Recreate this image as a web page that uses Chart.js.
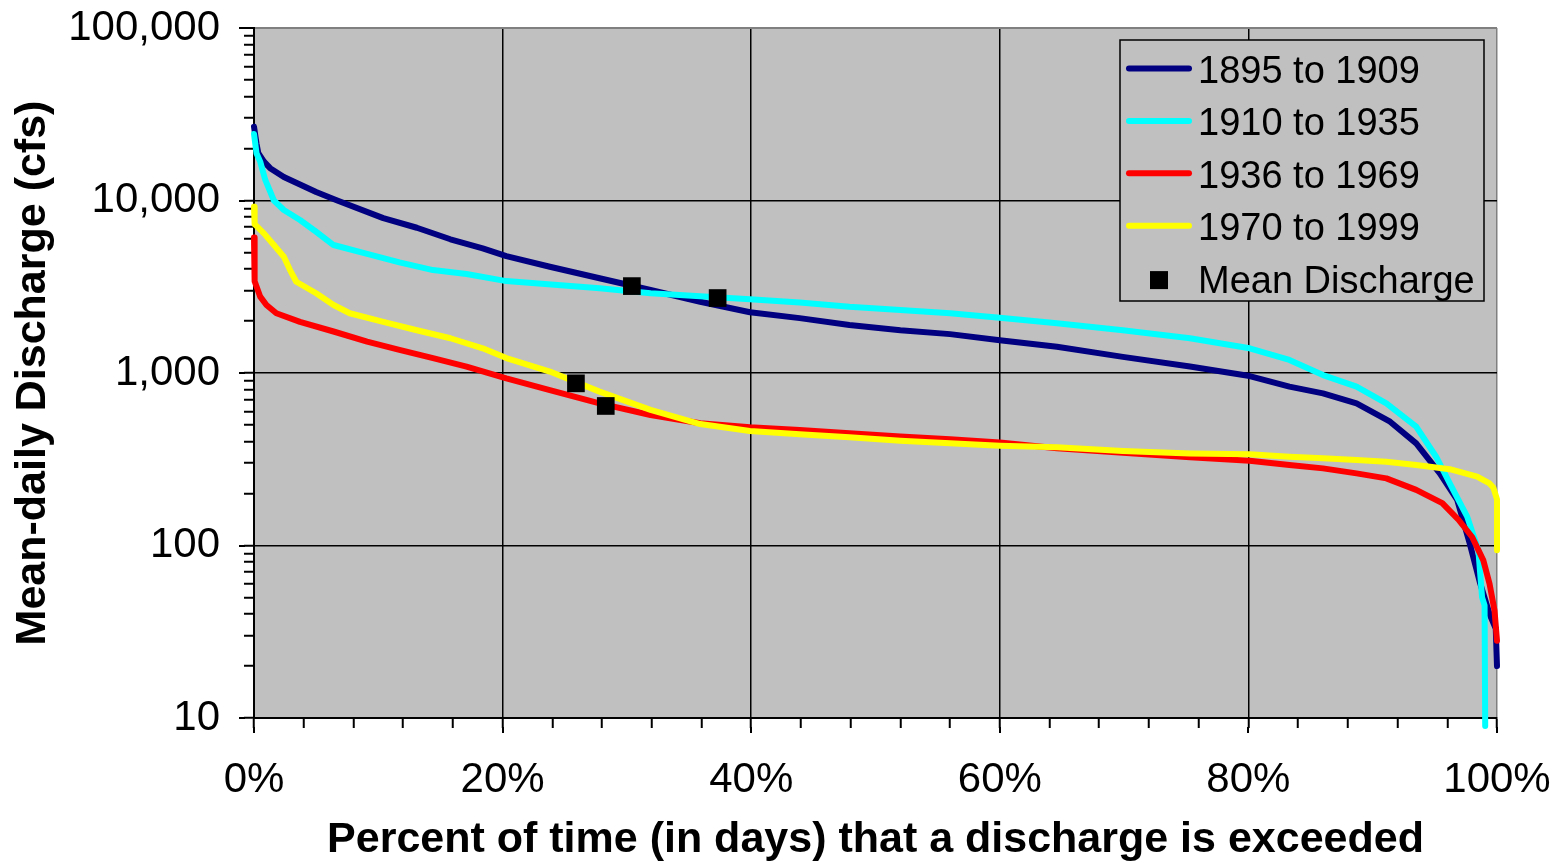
<!DOCTYPE html>
<html>
<head>
<meta charset="utf-8">
<script src="https://cdn.jsdelivr.net/npm/chart.js@4.4.1/dist/chart.umd.min.js"></script>
<style>
  html, body { margin: 0; padding: 0; background: #ffffff; }
  #wrap { width: 1558px; height: 866px; position: relative; }
  canvas { display: block; }
</style>
</head>
<body>
<div id="wrap"><canvas id="c" width="1558" height="866"></canvas></div>
<script>
// ---------------- DATA ----------------
const seriesLabels = ['1895 to 1909', '1910 to 1935', '1936 to 1969', '1970 to 1999'];
const meanLabel = 'Mean Discharge';

const pct1895 = [0, 0.2, 0.35, 0.8, 1.3, 2.4, 5, 6.7, 10.4, 13.1, 15.8, 18.4, 20.3, 23.8, 27.8, 31.9, 35.9, 39.9, 43.9, 47.9, 52, 56, 60, 64.6, 69.9, 75.3, 80.1, 83.3, 86, 88.7, 91.4, 93.5, 95.4, 96.8, 97.8, 98.6, 99.4, 99.9, 100];
const cfs1895 = [26800, 21400, 18800, 16800, 15400, 13700, 11200, 10000, 7900, 6950, 5960, 5280, 4760, 4130, 3540, 3030, 2590, 2250, 2080, 1900, 1770, 1680, 1550, 1420, 1240, 1090, 960, 834, 762, 667, 522, 391, 262, 184, 103, 62, 40, 33, 20];

const pct1910 = [0, 0.2, 0.5, 0.9, 1.6, 2.4, 3.7, 5, 6.4, 9.1, 11.7, 14.4, 17.1, 20.3, 27.8, 31.9, 35.9, 39.9, 43.9, 47.9, 52, 56, 60, 64.6, 69.9, 75.3, 80.1, 83.3, 86, 88.7, 91.1, 93.5, 95.1, 96.2, 97.6, 98.5, 98.8, 99.0, 99.05];
const cfs1910 = [24300, 18800, 16800, 13200, 10000, 8810, 7710, 6590, 5520, 4900, 4380, 3950, 3750, 3410, 3100, 2900, 2790, 2680, 2560, 2420, 2320, 2220, 2090, 1940, 1770, 1590, 1390, 1190, 973, 834, 667, 489, 327, 229, 147, 94, 50, 45, 9];

const pct1936 = [0, 0.05, 0.5, 1, 1.8, 3.7, 6.4, 9.1, 11.7, 14.4, 17.1, 20.3, 23.8, 27.8, 31.9, 35.9, 39.9, 43.9, 47.9, 52, 56, 60, 64.6, 69.9, 75.3, 80.1, 83.3, 86, 88.7, 91.1, 93.5, 95.6, 96.9, 98, 98.9, 99.4, 99.8, 100];
const cfs1936 = [6100, 3400, 2770, 2480, 2220, 1980, 1740, 1520, 1360, 1220, 1090, 930, 796, 667, 571, 511, 484, 468, 447, 428, 413, 395, 366, 345, 325, 310, 293, 280, 262, 245, 210, 176, 141, 112, 82, 60, 42, 28];

const pct1970 = [0, 0.05, 0.8, 1.6, 2.4, 2.9, 3.4, 5, 6.4, 7.7, 10.4, 13.1, 15.8, 18.4, 20.3, 23.8, 27.8, 31.9, 35.9, 39.9, 43.9, 47.9, 52, 56, 60, 64.6, 69.9, 75.3, 80.1, 83.3, 86, 88.7, 91.1, 93.5, 96.2, 98.4, 99.4, 99.7, 100, 100];
const cfs1970 = [9200, 7300, 6450, 5520, 4720, 3950, 3380, 2900, 2480, 2220, 1980, 1770, 1590, 1390, 1220, 1020, 780, 611, 506, 461, 441, 424, 405, 391, 379, 371, 353, 342, 338, 327, 320, 313, 306, 293, 277, 251, 229, 217, 185, 94];

const meanPct = [30.4, 37.3, 25.9, 28.3];
const meanCfs = [3190, 2720, 871, 644];

const xMajorTicks = [0, 20, 40, 60, 80, 100];
const xMinorStep = 4;
const yMajorTicks = [10, 100, 1000, 10000, 100000];

const xTitle = 'Percent of time (in days) that a discharge is exceeded';
const yTitle = 'Mean-daily Discharge (cfs)';

// ---------------- STYLE ----------------
const seriesColors = ['#000080', '#00FFFF', '#FF0000', '#FFFF00'];
const FONT = '"Liberation Sans", Arial, Helvetica, sans-serif';

const toPts = (xs, ys) => xs.map((x, i) => ({ x: x, y: ys[i] }));
const seriesPct = [pct1895, pct1910, pct1936, pct1970];
const seriesCfs = [cfs1895, cfs1910, cfs1936, cfs1970];
const drawOrder = [4, 3, 2, 1];

const datasets = seriesLabels.map((lab, i) => ({
  label: lab,
  data: toPts(seriesPct[i], seriesCfs[i]),
  borderColor: seriesColors[i],
  backgroundColor: seriesColors[i],
  borderWidth: 6,
  pointRadius: 0,
  tension: 0,
  fill: false,
  borderJoinStyle: 'round',
  borderCapStyle: 'round',
  order: drawOrder[i],
  clip: i === 1 ? { left: 4, right: 4, top: 4, bottom: 12 } : 4
}));
datasets.push({
  label: meanLabel,
  data: toPts(meanPct, meanCfs),
  showLine: false,
  pointStyle: 'rect',
  pointRadius: 12.5,
  pointBackgroundColor: '#000000',
  pointBorderWidth: 0,
  backgroundColor: '#000000',
  borderColor: '#000000',
  order: 0
});

// ---------------- PLUGINS ----------------
const plotBg = {
  id: 'plotBg',
  beforeDraw(chart) {
    const { ctx, chartArea: a } = chart;
    ctx.save();
    ctx.fillStyle = '#C0C0C0';
    ctx.fillRect(a.left, a.top, a.right - a.left, a.bottom - a.top);
    ctx.restore();
  }
};

const majorTickExt = {
  id: 'majorTickExt',
  afterDraw(chart) {
    const { ctx, chartArea: a } = chart;
    const xs = chart.scales.x, ys = chart.scales.y;
    ctx.save();
    ctx.strokeStyle = '#000';
    ctx.lineWidth = 2;
    xMajorTicks.forEach(v => {
      const px = Math.round(xs.getPixelForValue(v));
      ctx.beginPath(); ctx.moveTo(px, a.bottom + 9); ctx.lineTo(px, a.bottom + 15); ctx.stroke();
    });
    yMajorTicks.forEach(v => {
      const py = Math.round(ys.getPixelForValue(v));
      ctx.beginPath(); ctx.moveTo(a.left - 9, py); ctx.lineTo(a.left - 15, py); ctx.stroke();
    });
    ctx.restore();
  }
};

const boxLegend = {
  id: 'boxLegend',
  afterDraw(chart) {
    const { ctx, chartArea: a } = chart;
    const left = a.right - 377, top = a.top + 12, w = 364, h = 261;
    ctx.save();
    ctx.fillStyle = '#C0C0C0';
    ctx.fillRect(left, top, w, h);
    ctx.strokeStyle = '#000';
    ctx.lineWidth = 1.5;
    ctx.strokeRect(left, top, w, h);
    ctx.font = '38px ' + FONT;
    ctx.textBaseline = 'middle';
    ctx.textAlign = 'left';
    const labels = seriesLabels.concat([meanLabel]);
    labels.forEach((lab, i) => {
      const ty = top + 32.5 + i * 52.4;
      if (i < seriesLabels.length) {
        ctx.strokeStyle = seriesColors[i];
        ctx.lineWidth = 6;
        ctx.lineCap = 'round';
        ctx.beginPath(); ctx.moveTo(left + 9, ty - 4); ctx.lineTo(left + 69, ty - 4); ctx.stroke();
      } else {
        ctx.fillStyle = '#000';
        ctx.fillRect(left + 30, ty - 11, 18, 18);
      }
      ctx.fillStyle = '#000';
      ctx.fillText(lab, left + 78, ty);
    });
    ctx.restore();
  }
};

// ---------------- CHART ----------------
new Chart(document.getElementById('c'), {
  type: 'line',
  data: { datasets: datasets },
  options: {
    responsive: false,
    devicePixelRatio: 1,
    animation: false,
    events: [],
    layout: { padding: { top: 28, right: 61, bottom: 0, left: 0 } },
    plugins: { legend: { display: false }, tooltip: { enabled: false } },
    scales: {
      x: {
        type: 'linear',
        min: 0, max: 100,
        afterFit: s => { s.height = 148; s.paddingLeft = 0; s.paddingRight = 0; },
        afterBuildTicks: s => {
          const t = [];
          for (let v = 0; v <= 100; v += xMinorStep) t.push({ value: v });
          s.ticks = t;
        },
        border: { display: true, color: '#000', width: 2 },
        grid: {
          color: c => (c.tick && c.tick.value === 100) ? '#808080' : ((c.tick && xMajorTicks.includes(c.tick.value)) ? '#000' : 'rgba(0,0,0,0)'),
          lineWidth: 1.5,
          tickColor: '#000',
          tickWidth: 2,
          tickLength: 10
        },
        ticks: {
          autoSkip: false,
          maxRotation: 0,
          padding: 27,
          color: '#000',
          font: { family: FONT, size: 42 },
          callback: v => xMajorTicks.includes(v) ? v + '%' : ''
        },
        title: {
          display: true, text: xTitle, color: '#000',
          font: { family: FONT, size: 43, weight: 'bold' },
          padding: { top: 0, bottom: 0 }
        }
      },
      y: {
        type: 'logarithmic',
        min: 10, max: 100000,
        afterFit: s => { s.width = 254; s.paddingTop = 0; s.paddingBottom = 0; },
        afterBuildTicks: s => {
          const t = [];
          for (let d = 0; d < yMajorTicks.length - 1; d++) {
            for (let k = 1; k <= 9; k++) t.push({ value: yMajorTicks[d] * k });
          }
          t.push({ value: yMajorTicks[yMajorTicks.length - 1] });
          s.ticks = t;
        },
        border: { display: true, color: '#000', width: 2 },
        grid: {
          color: c => (c.tick && c.tick.value === 100000) ? '#808080' : ((c.tick && yMajorTicks.includes(c.tick.value)) ? '#000' : 'rgba(0,0,0,0)'),
          lineWidth: c => (c.tick && c.tick.value === 100000) ? 2 : 1.5,
          tickColor: '#000',
          tickWidth: 2,
          tickLength: 10
        },
        ticks: {
          autoSkip: false,
          padding: 24,
          color: '#000',
          font: { family: FONT, size: 42 },
          callback: v => yMajorTicks.includes(v) ? v.toLocaleString('en-US') : ''
        },
        title: {
          display: true, text: yTitle, color: '#000',
          font: { family: FONT, size: 43, weight: 'bold' },
          padding: { top: 7, bottom: 0 }
        }
      }
    }
  },
  plugins: [plotBg, majorTickExt, boxLegend]
});
</script>
</body>
</html>
